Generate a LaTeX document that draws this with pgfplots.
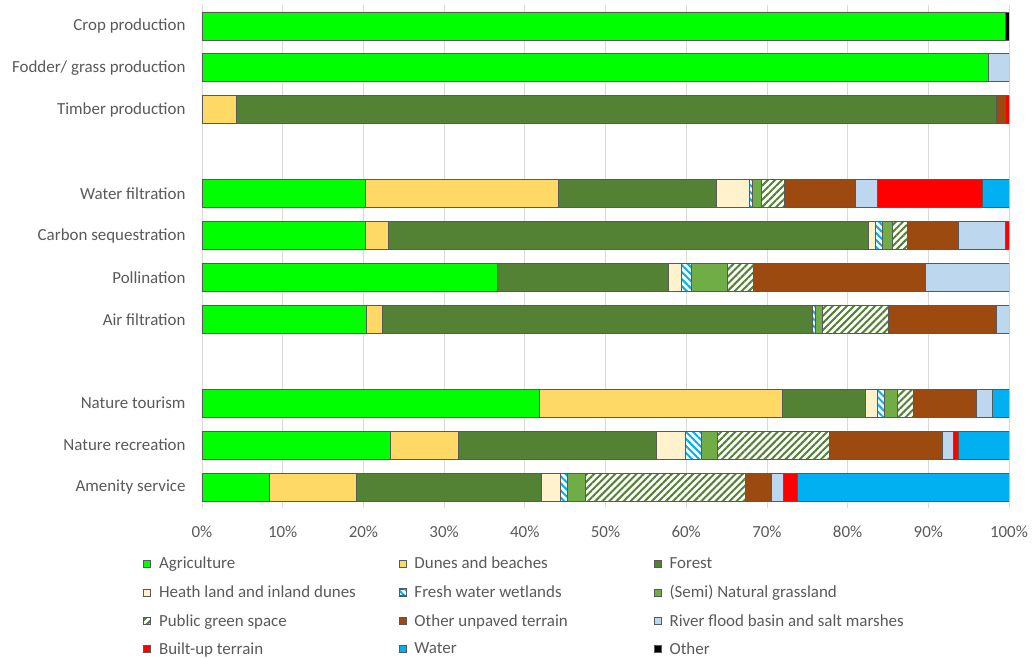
\documentclass[border=0pt]{standalone}
\usepackage{pgfplots}
\pgfplotsset{compat=1.18}
\usepackage{pgfplotstable}
\usetikzlibrary{patterns.meta}
\usepackage{fontspec}
\setmainfont{Carlito}
\definecolor{cAgr}{HTML}{00FF00}
\definecolor{cDun}{HTML}{FFD966}
\definecolor{cFor}{HTML}{548235}
\definecolor{cHea}{HTML}{FFF2CC}
\definecolor{cWet}{HTML}{00B0F0}
\definecolor{cGra}{HTML}{70AD47}
\definecolor{cPub}{HTML}{548235}
\definecolor{cOth}{HTML}{9C4A0F}
\definecolor{cRiv}{HTML}{BDD7EE}
\definecolor{cBui}{HTML}{FF0000}
\definecolor{cWat}{HTML}{00B0F0}
\definecolor{cOtr}{HTML}{000000}
\definecolor{cEdge}{HTML}{595959}
\definecolor{cGrid}{HTML}{D9D9D9}
\definecolor{cText}{HTML}{595959}
\pgfplotstableread{
y  agr  dun  for  hea wet gra pub  oth  riv  bui  wat  otr
0  99.6 0    0    0   0   0   0    0    0    0    0    0.4
1  97.4 0    0    0   0   0   0    0    2.6  0    0    0
2  0    4.3  94.2 0   0   0.1 0    1.0  0    0.4  0    0
4  20.3 23.9 19.6 4.0 0.4 1.1 2.9  8.8  2.7  13.0 3.3  0
5  20.3 2.8  59.5 0.9 0.8 1.2 1.9  6.3  5.8  0.5  0    0
6  36.6 0    21.2 1.6 1.2 4.5 3.2  21.4 10.3 0    0    0
7  20.4 2.0  53.2 0   0.4 0.9 8.1  13.4 1.6  0    0    0
9  41.8 30.1 10.3 1.5 0.9 1.6 2.0  7.8  1.9  0    2.1  0
10 23.4 8.4  24.5 3.6 2.0 2.0 13.9 13.9 1.4  0.6  6.3  0
11 8.3  10.9 22.9 2.3 0.9 2.2 19.8 3.3  1.4  1.8  26.2 0
}\data
\newcommand{\lt}[1]{\makebox[238.5bp][l]{#1}}
\begin{document}
\begin{tikzpicture}[font=\fontsize{17}{20}\selectfont]
\useasboundingbox (-202bp,-150bp) rectangle (834bp,508bp);
\begin{axis}[
  scale only axis, width=807bp, height=503bp,
  xbar stacked, bar width=28bp,
  y dir=reverse,
  xmin=0, xmax=100, ymin=-0.5, ymax=11.5,
  xtick={0,10,...,100},
  xticklabels={0\%,10\%,20\%,30\%,40\%,50\%,60\%,70\%,80\%,90\%,100\%},
  ytick={0,1,2,4,5,6,7,9,10,11},
  yticklabels={Crop production,Fodder/ grass production,Timber production,Water filtration,Carbon sequestration,Pollination,Air filtration,Nature tourism,Nature recreation,Amenity service},
  tick label style={font=\fontsize{17}{20}\selectfont, text=cText},
  xticklabel style={yshift=-14bp},
  yticklabel style={xshift=-13bp},
  axis line style={draw=none},
  tick style={draw=none},
  major tick length=0pt,
  xmajorgrids, grid style={cGrid, line width=0.75bp},
  every axis plot/.append style={draw=cEdge, line width=0.9bp},
  legend columns=3,
  legend cell align=left,
  legend style={at={(0,0)}, anchor=north west, xshift=-62bp, yshift=-46bp,
    draw=none, fill=none, font=\fontsize{17}{20}\selectfont, row sep=13bp,
    nodes={inner sep=1bp, text=cText},
    /tikz/every odd column/.append style={column sep=7bp}},
  legend image code/.code={\draw[#1, line width=0.6bp] (0bp,-3.5bp) rectangle (7bp,3.5bp);},
]
\addplot[fill=cAgr] table[x=agr,y=y] {\data};
\addplot[fill=cDun] table[x=dun,y=y] {\data};
\addplot[fill=cFor] table[x=for,y=y] {\data};
\addplot[fill=cHea] table[x=hea,y=y] {\data};
\addplot[fill=white, postaction={pattern={Lines[angle=-45,distance=5bp,line width=2bp]}, pattern color=cWet, draw=cEdge, line width=0.9bp}] table[x=wet,y=y] {\data};
\addplot[fill=cGra] table[x=gra,y=y] {\data};
\addplot[fill=white, postaction={pattern={Lines[angle=45,distance=5bp,line width=2bp]}, pattern color=cPub, draw=cEdge, line width=0.9bp}] table[x=pub,y=y] {\data};
\addplot[fill=cOth] table[x=oth,y=y] {\data};
\addplot[fill=cRiv] table[x=riv,y=y] {\data};
\addplot[fill=cBui] table[x=bui,y=y] {\data};
\addplot[fill=cWat] table[x=wat,y=y] {\data};
\addplot[fill=cOtr] table[x=otr,y=y] {\data};
\legend{\lt{Agriculture},\lt{Dunes and beaches},\lt{Forest},
\lt{Heath land and inland dunes},\lt{Fresh water wetlands},\lt{(Semi) Natural grassland},
\lt{Public green space},\lt{Other unpaved terrain},\lt{River flood basin and salt marshes},
\lt{Built-up terrain},\lt{Water},\lt{Other}}
\end{axis}
\end{tikzpicture}
\end{document}
